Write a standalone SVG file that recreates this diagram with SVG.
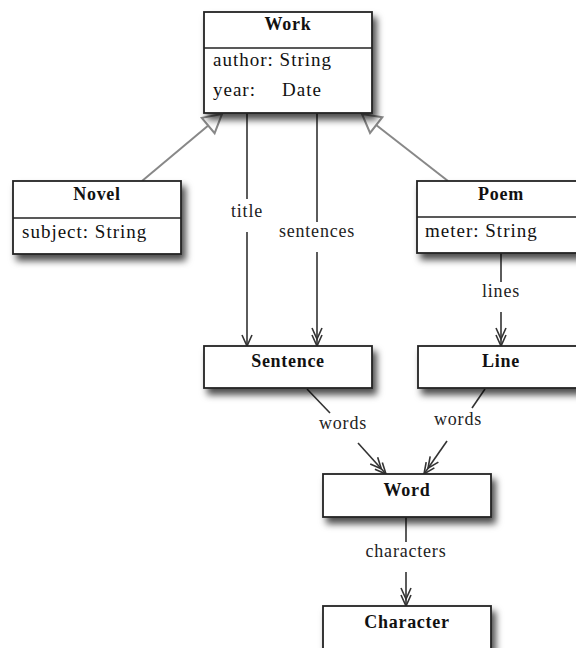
<svg xmlns="http://www.w3.org/2000/svg" width="576" height="648" viewBox="0 0 576 648">
<defs>
<filter id="sh" x="-20%" y="-20%" width="150%" height="170%">
<feDropShadow dx="4" dy="6" stdDeviation="3.5" flood-color="#000" flood-opacity="0.7"/>
</filter>
<marker id="one" markerUnits="userSpaceOnUse" viewBox="-14 -8 16 16" refX="0" refY="0" markerWidth="16" markerHeight="16" orient="auto">
<path d="M-11,-5 L0,0 L-11,5" fill="none" stroke="#333" stroke-width="1.6"/>
</marker>
<marker id="two" markerUnits="userSpaceOnUse" viewBox="-22 -8 24 16" refX="0" refY="0" markerWidth="24" markerHeight="16" orient="auto">
<path d="M-11,-5 L0,0 L-11,5 M-18,-5 L-7,0 L-18,5" fill="none" stroke="#333" stroke-width="1.6"/>
</marker>
<marker id="gen" markerUnits="userSpaceOnUse" viewBox="-22 -12 24 24" refX="0" refY="0" markerWidth="24" markerHeight="24" orient="auto">
<path d="M0,0 L-18,-10 L-18,10 Z" fill="#fff" stroke="#888" stroke-width="2" stroke-linejoin="miter"/>
</marker>
</defs>
<style>
.box{fill:#fff;stroke:#222;stroke-width:1.8}
.div{stroke:#222;stroke-width:1.5}
.hd{font-family:"Liberation Serif",serif;font-weight:bold;font-size:18px;letter-spacing:0.7px;fill:#111;text-anchor:middle}
.at{font-family:"Liberation Serif",serif;font-size:19px;letter-spacing:1px;fill:#111}
.lb{font-family:"Liberation Serif",serif;font-size:18px;letter-spacing:0.8px;fill:#222;text-anchor:middle}
.c{stroke:#333;stroke-width:1.6;fill:none}
.g{stroke:#888;stroke-width:2;fill:none}
</style>
<rect width="576" height="648" fill="#fff"/>

<g id="connectors">
<line class="g" x1="142" y1="181" x2="222" y2="114" marker-end="url(#gen)"/>
<line class="g" x1="448" y1="181" x2="362" y2="114" marker-end="url(#gen)"/>
<line class="c" x1="247" y1="113" x2="247" y2="199"/>
<line class="c" x1="247" y1="232" x2="247" y2="346" marker-end="url(#one)"/>
<text class="lb" x="247" y="217">title</text>
<line class="c" x1="317" y1="113" x2="317" y2="222"/>
<line class="c" x1="317" y1="252" x2="317" y2="346" marker-end="url(#two)"/>
<text class="lb" x="317" y="237">sentences</text>
<line class="c" x1="501" y1="253" x2="501" y2="282"/>
<line class="c" x1="501" y1="312" x2="501" y2="346" marker-end="url(#two)"/>
<text class="lb" x="501" y="297">lines</text>
<line class="c" x1="307" y1="389" x2="330" y2="413"/>
<line class="c" x1="358" y1="443" x2="386" y2="474" marker-end="url(#two)"/>
<text class="lb" x="343" y="429">words</text>
<line class="c" x1="485" y1="389" x2="472" y2="408"/>
<line class="c" x1="447" y1="441" x2="424" y2="474" marker-end="url(#two)"/>
<text class="lb" x="458" y="425">words</text>
<line class="c" x1="406" y1="517" x2="406" y2="542"/>
<line class="c" x1="406" y1="572" x2="406" y2="606" marker-end="url(#two)"/>
<text class="lb" x="406" y="557">characters</text>
</g>

<g id="work">
<rect class="box" x="204" y="12" width="168" height="101" filter="url(#sh)"/>
<line class="div" x1="204" y1="48" x2="372" y2="48"/>
<text class="hd" x="288" y="30">Work</text>
<text class="at" x="213" y="66">author: String</text>
<text class="at" x="213" y="96">year:<tspan x="282">Date</tspan></text>
</g>

<g id="novel">
<rect class="box" x="13" y="181" width="168" height="73" filter="url(#sh)"/>
<line class="div" x1="13" y1="218" x2="181" y2="218"/>
<text class="hd" x="97" y="200">Novel</text>
<text class="at" x="22" y="238">subject: String</text>
</g>

<g id="poem">
<rect class="box" x="417" y="181" width="168" height="72" filter="url(#sh)"/>
<line class="div" x1="417" y1="217" x2="585" y2="217"/>
<text class="hd" x="501" y="200">Poem</text>
<text class="at" x="425" y="237">meter: String</text>
</g>

<g id="sentence">
<rect class="box" x="204" y="346" width="168" height="42" filter="url(#sh)"/>
<text class="hd" x="288" y="367">Sentence</text>
</g>

<g id="line">
<rect class="box" x="418" y="346" width="168" height="42" filter="url(#sh)"/>
<text class="hd" x="501" y="367">Line</text>
</g>

<g id="word">
<rect class="box" x="323" y="474" width="168" height="43" filter="url(#sh)"/>
<text class="hd" x="407" y="496">Word</text>
</g>

<g id="character">
<rect class="box" x="323" y="606" width="168" height="60" filter="url(#sh)"/>
<text class="hd" x="407" y="628">Character</text>
</g>
</svg>
